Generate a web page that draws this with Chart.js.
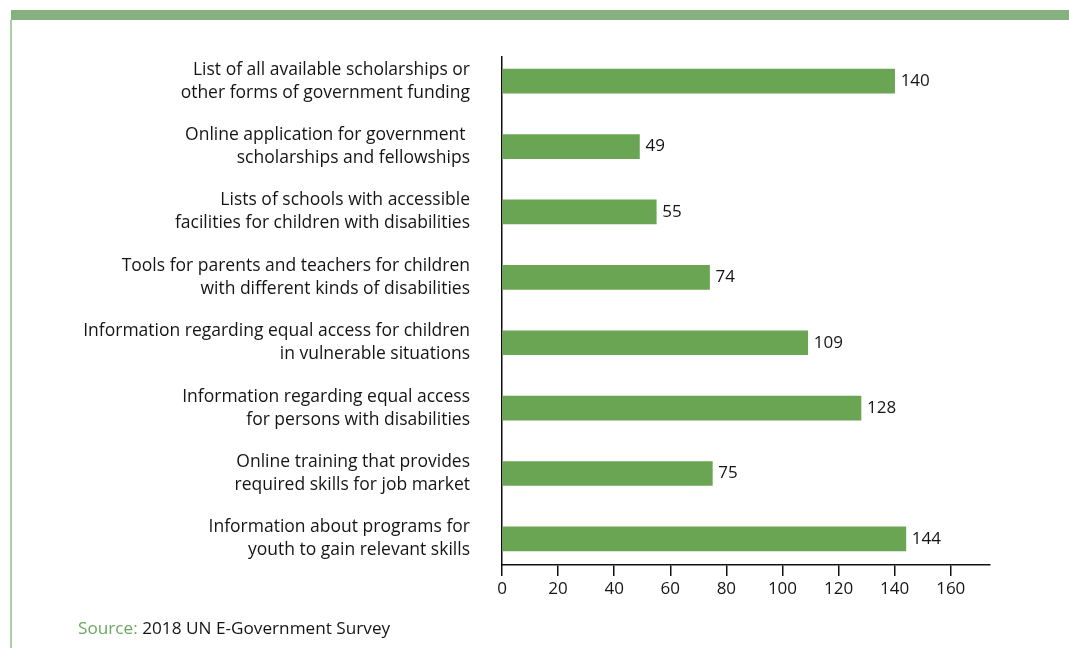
<!DOCTYPE html>
<html>
<head>
<meta charset="utf-8">
<script src="https://cdn.jsdelivr.net/npm/chart.js@4/dist/chart.umd.min.js"></script>
<style>
  html, body { margin: 0; padding: 0; background: #fff; }
  body { width: 1069px; height: 648px; position: relative; overflow: hidden; font-family: 'Open Sans', sans-serif; }
  #band { position: absolute; left: 11px; top: 10px; width: 1058px; height: 10px; background: #85b07f; }
  #rule { position: absolute; left: 10px; top: 20px; width: 2px; height: 628px; background: #a9cfa1; }
  #chart { position: absolute; left: 0; top: 0; }
  #source { position: absolute; left: 78px; top: 616px; font-size: 17.2px; color: #151515; }
  #source span { color: #6aa85f; }
</style>
</head>
<body>
<div id="band"></div>
<div id="rule"></div>
<canvas id="chart" width="1069" height="648"></canvas>
<div id="source"><span>Source:</span> 2018 UN E-Government Survey</div>
<script>
const categories = [
  ['List of all available scholarships or', 'other forms of government funding'],
  ['Online application for government ', 'scholarships and fellowships'],
  ['Lists of schools with accessible', 'facilities for children with disabilities'],
  ['Tools for parents and teachers for children', 'with different kinds of disabilities'],
  ['Information regarding equal access for children', 'in vulnerable situations'],
  ['Information regarding equal access', 'for persons with disabilities'],
  ['Online training that provides', 'required skills for job market'],
  ['Information about programs for', 'youth to gain relevant skills']
];
const counts = [140, 49, 55, 74, 109, 128, 75, 144];
const xTicks = [0, 20, 40, 60, 80, 100, 120, 140, 160];

const barColor = '#6aa553';
const textColor = '#151515';

// value labels at the end of each bar
const valueLabels = {
  id: 'valueLabels',
  afterDatasetsDraw(chart) {
    const ctx = chart.ctx;
    const meta = chart.getDatasetMeta(0);
    ctx.save();
    ctx.font = '17px "Open Sans"';
    ctx.fillStyle = textColor;
    ctx.textAlign = 'left';
    ctx.textBaseline = 'middle';
    meta.data.forEach((bar, i) => {
      ctx.fillText(String(counts[i]), bar.x + 6, bar.y);
    });
    ctx.restore();
  }
};

new Chart(document.getElementById('chart'), {
  type: 'bar',
  data: {
    datasets: [{
      data: counts.map((v, i) => ({ x: v, y: i })),
      backgroundColor: barColor,
      barThickness: 24,
      borderWidth: 0
    }]
  },
  options: {
    indexAxis: 'y',
    responsive: false,
    animation: false,
    layout: { padding: { top: 57, right: 79, bottom: 0, left: 0 } },
    plugins: { legend: { display: false }, tooltip: { enabled: false } },
    scales: {
      x: {
        type: 'linear',
        min: 0,
        max: 174,
        afterBuildTicks: s => { s.ticks = xTicks.map(v => ({ value: v })); },
        afterFit: s => { s.height = 83; },
        grid: { display: true, drawOnChartArea: false, drawTicks: true, tickLength: 11, color: '#111', lineWidth: 1.5 },
        border: { display: true, color: '#111', width: 1.5 },
        ticks: { color: textColor, font: { family: 'Open Sans', size: 17 }, padding: 3, maxRotation: 0 }
      },
      y: {
        type: 'linear',
        reverse: true,
        offset: false,
        min: -0.37,
        max: 7.4,
        afterBuildTicks: s => { s.ticks = categories.map((_, i) => ({ value: i })); },
        afterFit: s => { s.width = 502; },
        grid: { display: false, drawTicks: false, offset: false },
        border: { display: true, color: '#111', width: 1.5 },
        ticks: {
          color: textColor,
          font: { family: 'Open Sans', size: 17.5, lineHeight: 1.32 },
          padding: 32,
          autoSkip: false,
          callback: v => categories[v]
        }
      }
    }
  },
  plugins: [valueLabels]
});
</script>
</body>
</html>
